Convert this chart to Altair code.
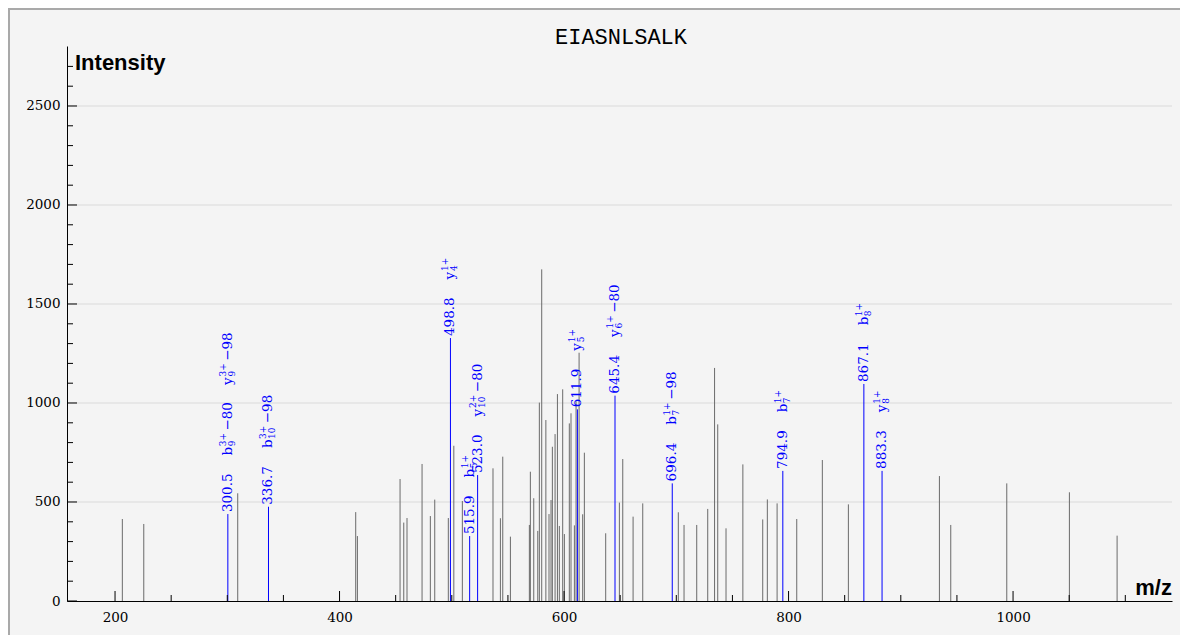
import altair as alt
import pandas as pd

# ---------------- data ----------------
TITLE = ["EIASNLSALK"]
X_TITLE = ["m/z"]
Y_TITLE = ["Intensity"]

# unannotated peaks (grey)
peak_mz = [206.5, 225.6, 309.3, 414.4, 415.9, 453.9, 457.2, 460.1, 473.5, 480.9,
           484.8, 496.9, 501.8, 509.4, 536.7, 543.3, 545.4, 552.2, 569.1, 570.0,
           573.0, 576.6, 578.0, 580.1, 583.8, 586.6, 588.4, 589.6, 592.0, 594.1,
           595.8, 598.8, 600.3, 604.7, 606.2, 609.2, 610.7, 613.4, 616.6, 618.1,
           637.1, 649.3, 652.3, 661.5, 670.1, 701.8, 706.9, 718.2, 728.0, 734.1,
           736.9, 744.3, 759.3, 777.0, 781.1, 789.8, 807.3, 830.1, 853.3, 934.4,
           944.5, 994.4, 1050.2, 1092.7]
peak_int = [414, 389, 544, 449, 328, 616, 396, 419, 692, 429,
            512, 419, 784, 505, 670, 418, 729, 325, 384, 653,
            519, 354, 1002, 1675, 914, 439, 510, 779, 843, 1045,
            379, 1069, 338, 897, 948, 382, 1007, 1254, 438, 749,
            342, 497, 717, 426, 493, 448, 384, 384, 465, 1177,
            892, 367, 690, 412, 513, 493, 414, 712, 488, 631,
            384, 594, 549, 330]

# annotated peaks (blue)
anno_mz = [300.5, 336.7, 498.8, 515.9, 523.0, 611.9, 645.4, 696.4, 794.9, 867.1, 883.3]
anno_int = [439, 476, 1328, 328, 636, 968, 1037, 594, 657, 1096, 657]

# fragment-ion labels
ion_peak = [300.5, 300.5, 336.7, 498.8, 515.9, 523.0, 611.9, 645.4, 696.4, 794.9, 867.1, 883.3]
ion_type = ["b", "y", "b", "y", "b", "y", "y", "y", "b", "b", "b", "y"]
ion_index = ["9", "9", "10", "4", "5", "10", "5", "6", "7", "7", "8", "8"]
ion_charge = ["3+", "3+", "3+", "1+", "1+", "2+", "1+", "1+", "1+", "1+", "1+", "1+"]
ion_loss = ["\u221280", "\u221298", "\u221298", "", "", "\u221280", "", "\u221280", "\u221298", "", "", ""]

x_label_values = [200, 400, 600, 800, 1000]
y_label_values = [0, 500, 1000, 1500, 2000, 2500]
grid_values = [500, 1000, 1500, 2000, 2500]
x_major_ticks = [200, 400, 600, 800, 1000]
x_minor_ticks = [v for v in range(250, 1101, 50) if v % 200 != 0]
y_major_ticks = [0, 500, 1000, 1500, 2000, 2500]
y_minor_ticks = [v for v in range(100, 2701, 100) if v % 500 != 0]

# ---------------- layout / style ----------------
W, H = 1172, 627
X_DOMAIN = [157.2, 1141.6]
X_RANGE = [59, 1164]
Y_DOMAIN = [0, 2803]
Y_RANGE = [593, 38]
SERIF = "DejaVu Serif"
FS = 13.5      # annotation / tick-label font size
FS_S = 9       # script font size
BLUE = "#0000ff"
GREY = "#6a6a6a"

EM = {"0": .636, "1": .636, "2": .636, "3": .636, "4": .636, "5": .636, "6": .636,
      "7": .636, "8": .636, "9": .636, ".": .318, "b": .640, "y": .592,
      "+": .838, "\u2212": .838}


def tw(s, fs):
    return sum(EM.get(c, .6) for c in s) * fs


NUM_GAP = 2
LABEL_GAP = 18
LABEL_GAP2 = 17

rows = []
for mz, it in zip(anno_mz, anno_int):
    lab = f"{mz:.1f}"
    rows.append(dict(mz=mz, inten=it, t=lab, along=NUM_GAP, perp=0, fs=FS))
    s = NUM_GAP + tw(lab, FS) + LABEL_GAP
    for pk, tp, ix, ch, ls in zip(ion_peak, ion_type, ion_index, ion_charge, ion_loss):
        if pk != mz:
            continue
        bw = tw(tp, FS)
        rows.append(dict(mz=mz, inten=it, t=tp, along=s, perp=0, fs=FS))
        rows.append(dict(mz=mz, inten=it, t=ch, along=s + bw + 0.5, perp=-5, fs=FS_S))
        rows.append(dict(mz=mz, inten=it, t=ix, along=s + bw + 0.5, perp=4, fs=FS_S))
        scw = max(tw(ch, FS_S), tw(ix, FS_S)) + 1
        total = bw + scw
        if ls:
            rows.append(dict(mz=mz, inten=it, t=ls, along=s + bw + scw + 2, perp=0, fs=FS))
            total += 2 + tw(ls, FS)
        s += total + LABEL_GAP2
labels_df = pd.DataFrame(rows)

peaks_df = pd.DataFrame({"mz": peak_mz, "inten": peak_int})
anno_df = pd.DataFrame({"mz": anno_mz, "inten": anno_int})

xscale = alt.Scale(domain=X_DOMAIN, range=X_RANGE, nice=False, zero=False)
yscale = alt.Scale(domain=Y_DOMAIN, range=Y_RANGE, nice=False, zero=False)
xaxis = alt.Axis(orient="bottom", offset=Y_RANGE[0] - H, values=x_label_values, tickSize=0,
                 format="d", labelFont=SERIF, labelFontSize=FS, labelColor="black",
                 labelPadding=9, domainColor="black", domainWidth=1, grid=False, title=None,
                 labelFlush=False, zindex=1)
yaxis = alt.Axis(orient="left", offset=-X_RANGE[0], values=y_label_values, tickSize=0,
                 format="d", labelFont=SERIF, labelFontSize=FS, labelColor="black",
                 labelPadding=7, domainColor="black", domainWidth=1, grid=False, title=None,
                 zindex=1)

X = lambda f: alt.X(f, scale=xscale, axis=xaxis)
Y = lambda f: alt.Y(f, scale=yscale, axis=yaxis)

border_df = pd.DataFrame({"a": [0]})
border_top = alt.Chart(border_df).mark_rule(color="#a9a9a9", strokeWidth=2).encode(
    x=alt.value(0), x2=alt.value(W), y=alt.value(1))
border_left = alt.Chart(border_df).mark_rule(color="#a9a9a9", strokeWidth=2).encode(
    x=alt.value(1), y=alt.value(0), y2=alt.value(H))

grid = alt.Chart(pd.DataFrame({"v": grid_values})).mark_rule(color="#dadada", strokeWidth=1).encode(
    y=Y("v:Q"), x=alt.value(X_RANGE[0]), x2=alt.value(X_RANGE[1]))

peaks = alt.Chart(peaks_df).mark_rule(color=GREY, strokeWidth=1).encode(
    x=X("mz:Q"), y=Y("inten:Q"), y2=alt.datum(0))
anno = alt.Chart(anno_df).mark_rule(color=BLUE, strokeWidth=1).encode(
    x=X("mz:Q"), y=Y("inten:Q"), y2=alt.datum(0))

xt_major = alt.Chart(pd.DataFrame({"v": x_major_ticks})).mark_rule(color="black").encode(
    x=X("v:Q"), y=alt.value(Y_RANGE[0]), y2=alt.value(Y_RANGE[0] - 10))
xt_minor = alt.Chart(pd.DataFrame({"v": x_minor_ticks})).mark_rule(color="black").encode(
    x=X("v:Q"), y=alt.value(Y_RANGE[0]), y2=alt.value(Y_RANGE[0] - 6))
yt_major = alt.Chart(pd.DataFrame({"v": y_major_ticks})).mark_rule(color="black").encode(
    y=Y("v:Q"), x=alt.value(X_RANGE[0]), x2=alt.value(X_RANGE[0] + 10))
yt_minor = alt.Chart(pd.DataFrame({"v": y_minor_ticks})).mark_rule(color="black").encode(
    y=Y("v:Q"), x=alt.value(X_RANGE[0]), x2=alt.value(X_RANGE[0] + 6))

labels = alt.Chart(labels_df).mark_text(
    angle=270, align="left", baseline="middle", color=BLUE, font=SERIF,
    dx=alt.expr("datum.along"), dy=alt.expr("datum.perp"),
    fontSize=alt.expr("datum.fs")).encode(
    x=X("mz:Q"), y=Y("inten:Q"), text="t:N")

title = alt.Chart(pd.DataFrame({"t": TITLE})).mark_text(
    font="Liberation Mono", fontSize=22, align="center", baseline="middle", color="black").encode(
    text="t:N", x=alt.value(613), y=alt.value(29))
ytitle = alt.Chart(pd.DataFrame({"t": Y_TITLE})).mark_text(
    font="Liberation Sans", fontWeight="bold", fontSize=22, align="left",
    baseline="alphabetic", color="black").encode(text="t:N", x=alt.value(67), y=alt.value(62))
xtitle = alt.Chart(pd.DataFrame({"t": X_TITLE})).mark_text(
    font="Liberation Sans", fontWeight="bold", fontSize=22, align="right",
    baseline="alphabetic", color="black").encode(text="t:N", x=alt.value(X_RANGE[1]), y=alt.value(587))

chart = alt.layer(
    border_top, border_left, grid, peaks, anno, xt_major, xt_minor, yt_major, yt_minor,
    labels, title, ytitle, xtitle
).properties(
    width=W, height=H, padding=0,
    autosize=alt.AutoSizeParams(type="none"),
    background="#f4f4f4"
).configure_view(stroke=None, fill="#f4f4f4")

chart.save("out.html", embed_options={"renderer": "svg", "actions": False})
